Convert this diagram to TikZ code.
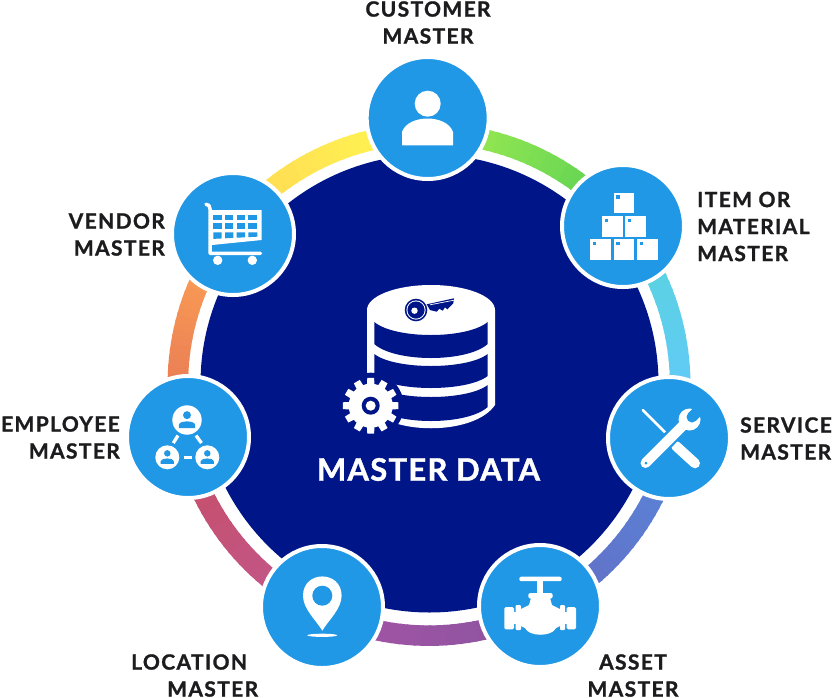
\documentclass[tikz,border=0pt]{standalone}
\usepackage{fontspec}
\setmainfont{Lato}[BoldFeatures={FakeBold=1.2,LetterSpace=6.5}]
\newfontface\titleface{Lato Bold}[FakeBold=1.2,LetterSpace=4]
\definecolor{coreblue}{RGB}{0,21,136}
\definecolor{hubblue}{RGB}{32,152,230}
\definecolor{inkdark}{RGB}{28,28,30}
\newcommand{\ringseg}[4]{% from angle, to angle, colours
  \definecolor{segA}{RGB}{#3}\definecolor{segB}{RGB}{#4}%
  \foreach \k in {0,...,29}{%
    \pgfmathsetmacro{\aone}{#1+(#2-#1)*\k/30}%
    \pgfmathsetmacro{\atwo}{#1+(#2-#1)*(\k+1.3)/30}%
    \pgfmathsetmacro{\pct}{100-100*(\k+.5)/30}%
    \colorlet{segC}{segA!\pct!segB}%
    \pgfmathsetmacro{\xone}{429+251.2*cos(\aone)}%
    \pgfmathsetmacro{\yone}{384.5-251.2*sin(\aone)}%
    \pgfmathsetmacro{\xtwo}{429+251.2*cos(\atwo)}%
    \pgfmathsetmacro{\ytwo}{384.5-251.2*sin(\atwo)}%
    \draw[segC,line width=20.5pt] (\xone,\yone) -- (\xtwo,\ytwo);%
  }%
}
\newcommand{\dbband}[4]{%
  \pgfmathsetmacro{\ctop}{#1+(#2-#1)*4/3}%
  \pgfmathsetmacro{\cbot}{#3+(#4-#3)*4/3}%
  \fill[coreblue] (374.3,#1) .. controls (395,\ctop) and (467,\ctop) .. (487.7,#1)
     -- (487.7,#3) .. controls (467,\cbot) and (395,\cbot) .. (374.3,#3) -- cycle;%
}
\newcommand{\boxcell}[2]{%
  \fill[white] (#1,#2) rectangle ++(20.6,20.6);%
  \fill[hubblue] (#1+2.7,#2+2.7) rectangle ++(3.3,3.3);%
}
\newcommand{\miniperson}[3]{% x, y, scale
  \fill[white] (#1,#2) circle[radius=#3];%
  \fill[hubblue] (#1,#2-.33*#3) circle[radius=.27*#3];%
  \fill[hubblue] (#1-.55*#3,#2+.55*#3) -- (#1-.55*#3,#2+.32*#3)
     .. controls (#1-.5*#3,#2+.02*#3) and (#1+.5*#3,#2+.02*#3) .. (#1+.55*#3,#2+.32*#3)
     -- (#1+.55*#3,#2+.55*#3) -- cycle;%
}
\tikzset{
  hub/.style={circle,fill=hubblue,draw=white,line width=4pt,minimum size=122pt,inner sep=0pt},
  lbl/.style={inkdark,font=\fontsize{21}{27}\selectfont\bfseries,inner sep=0pt},
  cellfill/.style={fill=hubblue},
}
\begin{document}
\begin{tikzpicture}[x=1pt,y=-1pt]
\useasboundingbox (0,0) rectangle (833,697);
% coloured ring
\ringseg{90}{39}{165,238,80}{82,205,85}
\ringseg{39}{-13}{88,212,218}{100,200,255}
\ringseg{-13}{-63.5}{88,135,218}{100,108,195}
\ringseg{-63.5}{-115.5}{138,84,160}{165,84,165}
\ringseg{-115.5}{-167.4}{192,88,145}{200,78,100}
\ringseg{-167.4}{-217.2}{228,112,85}{255,168,85}
\ringseg{-217.2}{-270}{255,212,85}{255,250,80}
% centre
\node[circle,fill=coreblue,minimum size=458pt,inner sep=0pt] (core) at (429.5,383.5) {};
% hubs
\node[hub] (customer) at (427.7,118) {};
\node[hub] (item) at (623,226) {};
\node[hub] (service) at (669,438) {};
\node[hub] (asset) at (540,606) {};
\node[hub] (location) at (322,607) {};
\node[hub] (employee) at (188,437) {};
\node[hub] (vendor) at (233,234) {};
% labels
\node[lbl,align=center] (customerlabel) at (428,22.5) {CUSTOMER\\MASTER};
\node[lbl,align=left,anchor=west] (itemlabel) at (697,226.5) {ITEM OR\\MATERIAL\\MASTER};
\node[lbl,align=left,anchor=west] (servicelabel) at (740,438.5) {SERVICE\\MASTER};
\node[lbl,align=center] (assetlabel) at (633,675.5) {ASSET\\MASTER};
\node[lbl,align=left,anchor=west] (locationlabel) at (131,675.5) {LOCATION\\\hspace*{36pt}MASTER};
\node[lbl,align=right,anchor=east] (employeelabel) at (120,437.5) {EMPLOYEE\\MASTER};
\node[lbl,align=right,anchor=east] (vendorlabel) at (165,234.5) {VENDOR\\MASTER};
\node[white,font=\fontsize{31}{36}\selectfont\titleface,inner sep=0pt] (title) at (428.5,469.5) {MASTER DATA};
% database icon
\fill[white] (367,310) -- (367,405) .. controls (388,436) and (474,436) .. (495,405) -- (495,310) -- cycle;
\fill[white] (431,310) ellipse[x radius=64,y radius=25];
\dbband{322}{335}{344}{358}
\dbband{354}{366}{376}{388}
\dbband{385}{397}{407}{421}
\fill[coreblue] (370.7,405.7) circle[radius=33];
\fill[coreblue] (360,370) rectangle (367,440);
% gear
\foreach \t in {0,30,...,330}{
  \fill[white] ({370.7+28*cos(\t-7)},{405.7+28*sin(\t-7)}) -- ({370.7+28*cos(\t+7)},{405.7+28*sin(\t+7)})
     -- ({370.7+20*cos(\t+11)},{405.7+20*sin(\t+11)}) -- ({370.7+20*cos(\t-11)},{405.7+20*sin(\t-11)}) -- cycle;
}
\fill[white] (370.7,405.7) circle[radius=22];
\fill[coreblue] (370.7,405.7) circle[radius=9];
\fill[white] (370.7,405.7) circle[radius=5];
% key
\fill[coreblue] (426.7,304.3) -- (454,298.3) -- (453.3,303.3) -- (447.3,309.3) -- (445,307.3) -- (442.7,310.7)
   -- (439.3,308.7) -- (436.7,311.7) -- (430,310) -- cycle;
\draw[white,line width=.7pt] (430,304.8) -- (454,300.2);
\fill[coreblue] (416,310) circle[radius=11.3];
\fill[white] (416,310) circle[radius=9.6];
\fill[coreblue] (416,310) circle[radius=8.6];
\fill[white] (414.5,310.7) circle[radius=3.2];
% person icon
\fill[white] (427.7,103.7) circle[radius=13];
\fill[white] (402,145.3) -- (402,132) .. controls (408,114) and (447,114) .. (453,132) -- (453,145.3) -- cycle;
% boxes icon
\boxcell{613.7}{192.7}
\boxcell{602}{216}
\boxcell{625.3}{216}
\boxcell{590.3}{239.3}
\boxcell{613.7}{239.3}
\boxcell{637}{239.3}
% tools icon
\draw[white,line width=2.6pt,line cap=round] (642.7,410) -- (665,432.3);
\draw[white,line width=10pt,line cap=round] (676,446) -- (695,463.3);
\draw[hubblue,line width=15pt] (655,453.3) -- (680,428);
\draw[white,line width=10pt,line cap=round] (645.5,463) -- (684,424.5);
\fill[white] (689.5,419.5) circle[radius=11];
\fill[hubblue] (692,417) circle[radius=5.5];
\fill[hubblue] (688.2,413.2) -- (695.8,420.8) -- (706,410.6) -- (698.4,403) -- cycle;
\fill[hubblue] (646,463) circle[radius=1.5];
% valve icon
\fill[white,rounded corners=2pt] (519.3,576.7) rectangle (561.7,581.2);
\fill[white] (536.7,581) rectangle (543.3,593);
\fill[white,rounded corners=1.5pt] (528.3,593) rectangle (552.7,598.5);
\fill[white] (531,598) -- (550,598) -- (552,605) -- (560,609) -- (560,626) -- (556,628)
   .. controls (552,637) and (529,637) .. (525,628) -- (521,626) -- (521,609) -- (529,605) -- cycle;
\fill[white,rounded corners=1.5pt] (504.3,607) rectangle (514,629.3);
\fill[white,rounded corners=1pt] (515.7,605) rectangle (521,630);
\fill[white] (514,612) rectangle (516,624);
\fill[white,rounded corners=1pt] (560,605) rectangle (565,630);
\fill[white,rounded corners=1.5pt] (566.7,607) rectangle (576,629.3);
\fill[white] (564.5,612) rectangle (567,624);
% pin icon
\fill[white] (322.3,630.7) .. controls (316,620) and (303,609) .. (303,595.7)
   .. controls (303,570) and (341.6,570) .. (341.6,595.7)
   .. controls (341.6,609) and (328.6,620) .. (322.3,630.7) -- cycle;
\fill[hubblue] (322.3,595.7) circle[radius=10];
\fill[white] (322.3,635.3) ellipse[x radius=15,y radius=1.6];
% network icon
\draw[white,line width=3.3pt] (173.3,443) -- (178,435.5);
\draw[white,line width=3.3pt] (196,435.5) -- (201.5,443);
\draw[white,line width=3.3pt] (183.5,457.7) -- (192,457.7);
\miniperson{187}{420}{14.7}
\miniperson{167.3}{457.3}{12}
\miniperson{207.3}{457.3}{12}
% cart icon
\fill[white] (212,210) -- (261.7,210) -- (261.7,240) -- (212,245) -- cycle;
\foreach \xa/\xb in {213.3/221.7,225/233.3,236.7/245,248.3/257.3}{
  \fill[cellfill] (\xa,215) rectangle (\xb,220);
  \fill[cellfill] (\xa,223.3) rectangle (\xb,229.3);
  \fill[cellfill] (\xa,{238.9-(\xa-213)*.05}) -- (\xb,{238.9-(\xb-213)*.05}) -- (\xb,232.3) -- (\xa,232.3) -- cycle;
}
\draw[white,line width=3.5pt,line cap=round,line join=round] (206,204.3) -- (209,205.5) -- (210,209) -- (210,253.3) -- (260.5,253.3);
\fill[white] (217.7,260.3) circle[radius=4.7];
\fill[white] (252.3,260.3) circle[radius=4.7];
\end{tikzpicture}
\end{document}
